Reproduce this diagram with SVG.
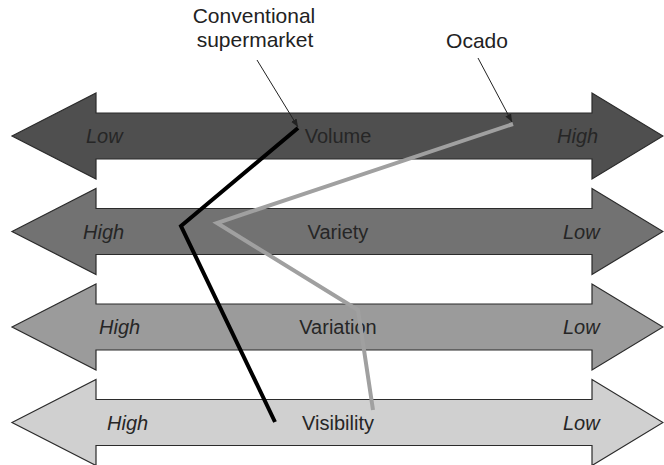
<svg xmlns="http://www.w3.org/2000/svg" width="664" height="465" viewBox="0 0 664 465">
  <style>
    .band { stroke: #2b2b2b; stroke-width: 1.2; stroke-linejoin: miter; }
    .lbl { font-family: "Liberation Sans", Arial, Helvetica, sans-serif; font-size: 20px; fill: #262626; }
    .end { font-style: italic; }
    .mid { text-anchor: middle; }
    .note { font-family: "Liberation Sans", Arial, Helvetica, sans-serif; font-size: 21px; fill: #222; text-anchor: middle; }
    .profile { fill: none; stroke-width: 4; stroke-linejoin: miter; stroke-linecap: butt; }
    .pointer { fill: none; stroke: #222; stroke-width: 1; }
  </style>
  <defs>
    <!-- double-headed band, centred on y = 0 -->
    <path id="band" d="M12,0 L96,-43 L96,-23 L592,-23 L592,-43 L663,0 L592,43 L592,23 L96,23 L96,43 Z"/>
    <marker id="tip" viewBox="0 0 10 10" refX="10" refY="5" markerWidth="8" markerHeight="8" markerUnits="userSpaceOnUse" orient="auto">
      <path d="M0,1 L10,5 L0,9 Z" fill="#222"/>
    </marker>
  </defs>

  <rect width="664" height="465" fill="#ffffff"/>

  <g id="volume">
    <use href="#band" class="band" fill="#4f4f4f" transform="translate(0,136)"/>
    <text class="lbl end" x="86" y="143">Low</text>
    <text class="lbl mid" x="338" y="143">Volume</text>
    <text class="lbl end" x="557" y="143">High</text>
  </g>

  <g id="variety">
    <use href="#band" class="band" fill="#727272" transform="translate(0,231.5)"/>
    <text class="lbl end" x="83" y="238.5">High</text>
    <text class="lbl mid" x="338" y="238.5">Variety</text>
    <text class="lbl end" x="563" y="238.5">Low</text>
  </g>

  <g id="variation">
    <use href="#band" class="band" fill="#9b9b9b" transform="translate(0,327)"/>
    <text class="lbl end" x="99" y="334">High</text>
    <text class="lbl mid" x="338" y="334">Variation</text>
    <text class="lbl end" x="563" y="334">Low</text>
  </g>

  <g id="visibility">
    <use href="#band" class="band" fill="#d0d0d0" transform="translate(0,422.5)"/>
    <text class="lbl end" x="107" y="429.5">High</text>
    <text class="lbl mid" x="338" y="429.5">Visibility</text>
    <text class="lbl end" x="563" y="429.5">Low</text>
  </g>

  <g id="conventional-label">
    <text class="note" x="254" y="23">Conventional</text>
    <text class="note" x="255" y="47">supermarket</text>
  </g>

  <g id="ocado-label">
    <text class="note" x="477" y="48">Ocado</text>
  </g>

  <g id="connectors">
    <!-- profile lines across the four bands -->
    <polyline class="profile" stroke="#000000" points="298,128 181,226 275,422"/>
    <polyline class="profile" stroke="#a0a0a0" points="513,124 217,223 358,310 373,410"/>
    <!-- label pointers -->
    <line class="pointer" x1="257" y1="60" x2="298" y2="127" marker-end="url(#tip)"/>
    <line class="pointer" x1="478" y1="58" x2="512" y2="122" marker-end="url(#tip)"/>
  </g>
</svg>
